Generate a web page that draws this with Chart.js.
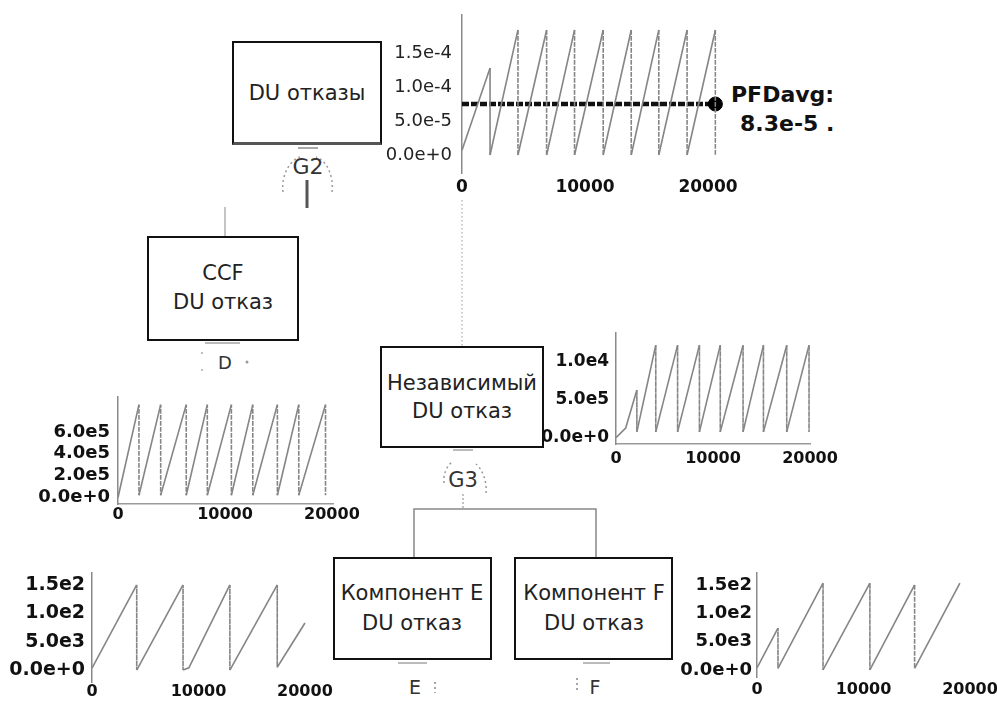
<!DOCTYPE html>
<html><head><meta charset="utf-8">
<script src="https://cdn.jsdelivr.net/npm/chart.js@4.4.1/dist/chart.umd.min.js"></script>
<style>
html,body{margin:0;padding:0;background:#fff;}
body{width:997px;height:705px;overflow:hidden;position:relative;font-family:'DejaVu Sans',sans-serif;}
.box{position:absolute;box-sizing:border-box;border:2px solid #111;}
.t{position:absolute;transform:translate(-50%,-50%);white-space:nowrap;line-height:1;color:#222;font-size:21px;}
.l{position:absolute;transform:translateY(-50%);white-space:nowrap;line-height:1;color:#111;font-size:22px;font-weight:bold;}
canvas{position:absolute;}
svg{position:absolute;left:0;top:0;}
</style></head><body>
<svg width="997" height="705">
  <path d="M283,192 C281,175 290,160 300,157" fill="none" stroke="#999" stroke-width="1.5" stroke-dasharray="2,3"/>
  <path d="M332,192 C334,175 326,160 316,157" fill="none" stroke="#999" stroke-width="1.5" stroke-dasharray="2,3"/>
  <line x1="298" y1="148" x2="318" y2="148" stroke="#aaa" stroke-width="2"/>
  <line x1="307" y1="180" x2="307" y2="208" stroke="#555" stroke-width="3"/>
  <line x1="225" y1="207" x2="225" y2="236" stroke="#888" stroke-width="1"/>
  <line x1="462" y1="200" x2="462" y2="346" stroke="#999" stroke-width="1" stroke-dasharray="1.5,2.5"/>
  <line x1="205" y1="343" x2="240" y2="343" stroke="#bbb" stroke-width="2"/>
  <circle cx="247" cy="362" r="1.5" fill="#999"/>
  <circle cx="202" cy="353" r="1" fill="#aaa"/>
  <circle cx="202" cy="370" r="1" fill="#aaa"/>
  <line x1="453" y1="450" x2="473" y2="450" stroke="#bbb" stroke-width="2"/>
  <path d="M444,483 C443,474 447,466 452,462" fill="none" stroke="#999" stroke-width="1.5" stroke-dasharray="2,3"/>
  <path d="M486,493 C487,482 483,470 476,464" fill="none" stroke="#999" stroke-width="1.5" stroke-dasharray="2,3"/>
  <line x1="463" y1="494" x2="463" y2="509" stroke="#999" stroke-width="1.2" stroke-dasharray="2,2"/>
  <polyline points="414,557 414,509 596,509 596,557" fill="none" stroke="#888" stroke-width="1.5"/>
  <line x1="398" y1="663" x2="427" y2="663" stroke="#bbb" stroke-width="2"/>
  <line x1="583" y1="663" x2="610" y2="663" stroke="#bbb" stroke-width="2"/>
  <line x1="435" y1="682" x2="435" y2="693" stroke="#888" stroke-width="1.5" stroke-dasharray="2,3"/>
  <line x1="577" y1="678" x2="577" y2="693" stroke="#888" stroke-width="1.5" stroke-dasharray="2,3"/>
</svg>

<div class="box" style="left:232px;top:41px;width:150px;height:104px;border-bottom:3px solid #555;"></div>
<div class="box" style="left:147px;top:236px;width:152px;height:105px;"></div>
<div class="box" style="left:380px;top:346px;width:164px;height:102px;"></div>
<div class="box" style="left:333px;top:557px;width:159px;height:103px;"></div>
<div class="box" style="left:514px;top:557px;width:159px;height:103px;"></div>

<div class="t" style="left:307px;top:93px;">DU отказы</div>
<div class="t" style="left:308px;top:167px;font-size:22px;color:#333;">G2</div>
<div class="t" style="left:223px;top:273px;">CCF</div>
<div class="t" style="left:223px;top:302px;">DU отказ</div>
<div class="t" style="left:225px;top:363px;font-size:18px;color:#333;">D</div>
<div class="t" style="left:462px;top:383px;">Независимый</div>
<div class="t" style="left:462px;top:411px;">DU отказ</div>
<div class="t" style="left:463px;top:480px;color:#333;">G3</div>
<div class="t" style="left:412px;top:593px;">Компонент E</div>
<div class="t" style="left:412px;top:623px;">DU отказ</div>
<div class="t" style="left:594px;top:593px;">Компонент F</div>
<div class="t" style="left:594px;top:623px;">DU отказ</div>
<div class="t" style="left:415px;top:687px;font-size:19px;color:#333;">E</div>
<div class="t" style="left:595px;top:687px;font-size:19px;color:#333;">F</div>
<div class="l" style="left:731px;top:95px;">PFDavg:</div>
<div class="l" style="left:740px;top:124px;">8.3e-5 .</div>

<script>
// ---------- data ----------
const xTicks = [0, 10000, 20000];

// DU отказы (top)
const topTime  = [0, 2280, 2280, 4550, 4550, 6880, 6880, 9150, 9150, 11480, 11480, 13760, 13760, 16000, 16000, 18300, 18300, 20600, 20600];
const topValue = [0.7e-5, 12.8e-5, 0, 18.4e-5, 0, 18.4e-5, 0, 18.4e-5, 0, 18.4e-5, 0, 18.4e-5, 0, 18.4e-5, 0, 18.4e-5, 0, 18.4e-5, 0];
const pfdTime  = [0, 20600];
const pfdValue = [7.5e-5, 7.5e-5];
const topYTicks  = [0, 5e-5, 1e-4, 1.5e-4];
const topYLabels = ['0.0e+0', '5.0e-5', '1.0e-4', '1.5e-4'];

// CCF DU отказ
const ccfTime  = [0, 1960, 1960, 3990, 3990, 6380, 6380, 8350, 8350, 10600, 10600, 12600, 12600, 14900, 14900, 16900, 16900, 19400, 19400];
const ccfValue = [0, 8.5e-5, 0.2e-5, 8.5e-5, 0.2e-5, 8.5e-5, 0.2e-5, 8.5e-5, 0.2e-5, 8.5e-5, 0.2e-5, 8.5e-5, 0.2e-5, 8.5e-5, 0.2e-5, 8.5e-5, 0.2e-5, 8.5e-5, 0.2e-5];
const ccfYTicks  = [0, 2e-5, 4e-5, 6e-5];
const ccfYLabels = ['0.0e+0', '2.0e5', '4.0e5', '6.0e5'];

// Независимый DU отказ
const indTime  = [0, 1000, 2150, 2150, 4100, 4100, 6350, 6350, 8600, 8600, 10750, 10750, 13100, 13100, 15200, 15200, 17600, 17600, 19900, 19900];
const indValue = [0.05e-5, 1.3e-5, 6.3e-5, 0.8e-5, 12.2e-5, 0.8e-5, 12.2e-5, 0.8e-5, 12.2e-5, 0.8e-5, 12.2e-5, 0.8e-5, 12.2e-5, 0.8e-5, 12.2e-5, 0.8e-5, 12.2e-5, 0.8e-5, 12.2e-5, 0.8e-5];
const indYTicks  = [0, 5e-5, 1e-4];
const indYLabels = ['0.0e+0', '5.0e5', '1.0e4'];

// Компонент E / F
const eTime  = [0, 4200, 4200, 8550, 8550, 9100, 12950, 12950, 17400, 17400, 20000];
const eValue = [0.35e-3, 1.5e-2, 0, 1.5e-2, 0, 0.4e-3, 1.5e-2, 0, 1.5e-2, 0.5e-3, 0.83e-2];
const fTime  = [0, 1970, 1970, 6200, 6200, 10600, 10600, 14800, 14800, 19050];
const fValue = [0.35e-3, 0.74e-2, 0.3e-3, 1.53e-2, 0, 1.53e-2, 0, 1.5e-2, 0.3e-3, 1.53e-2];
const compYTicks  = [0, 5e-3, 1e-2, 1.5e-2];
const compYLabels = ['0.0e+0', '5.0e3', '1.0e2', '1.5e2'];

// ---------- drawing ----------
Chart.defaults.font.family = "'DejaVu Sans', sans-serif";
const PT = 25, PR = 40;

function pts(xs, ys) { return xs.map((x, i) => ({ x: x, y: ys[i] })); }
function saw(xs, ys) {
  return {
    data: pts(xs, ys), borderColor: '#858585', borderWidth: 1.6, pointRadius: 0, fill: false, tension: 0,
    segment: { borderDash: c => (c.p0.parsed.x === c.p1.parsed.x ? [3, 3] : undefined) }
  };
}

function makeChart(g) {
  const c = document.createElement('canvas');
  const w = Math.round(g.R - g.L + g.yw + PR);
  const h = Math.round(g.B - g.T + PT + g.xh);
  c.width = w; c.height = h;
  c.style.left = (g.L - g.yw) + 'px';
  c.style.top = (g.T - PT) + 'px';
  c.style.width = w + 'px'; c.style.height = h + 'px';
  document.body.appendChild(c);
  const padR = w - (g.R - g.L) - g.yw;
  new Chart(c, {
    type: 'line',
    data: { datasets: g.datasets },
    options: {
      responsive: false, animation: false, events: [],
      layout: { padding: { left: 0, top: PT, right: padR, bottom: 0 } },
      plugins: { legend: { display: false }, tooltip: { enabled: false } },
      scales: {
        x: {
          type: 'linear', min: g.xmin, max: g.xmax,
          afterFit: s => { s.height = g.xh; },
          afterBuildTicks: s => { s.ticks = xTicks.map(v => ({ value: v })); },
          ticks: { padding: g.xpad, autoSkip: false, maxRotation: 0, color: '#111',
                   font: { size: g.xfs, weight: 'bold' }, callback: v => String(v) },
          grid: { display: false, drawTicks: false },
          border: { display: g.xBorder, color: '#9a9a9a', width: 1.5 }
        },
        y: {
          type: 'linear', min: g.ymin, max: g.ymax,
          afterFit: s => { s.width = g.yw; },
          afterBuildTicks: s => { s.ticks = g.yTicks.map(v => ({ value: v })); },
          ticks: { padding: g.ypad, autoSkip: false, color: g.ycol || '#111',
                   font: { size: g.yfs, weight: g.yweight || 'bold' },
                   callback: (v, i) => g.yLabels[i] },
          grid: { display: false, drawTicks: false },
          border: { display: true, color: '#8a8a8a', width: 1.5, dash: g.yDash || [] }
        }
      }
    }
  });
}

// top: DU отказы
makeChart({
  L: 462, T: 15, R: 716.6, B: 173, yw: 90, xh: 26,
  xmin: 0, xmax: 20700, ymin: -2.65e-5, ymax: 2.06e-4,
  yTicks: topYTicks, yLabels: topYLabels, yfs: 18, yweight: 'normal', ycol: '#222', ypad: 10,
  xfs: 17, xpad: 4, xBorder: false,
  datasets: [
    saw(topTime, topValue),
    { data: pts(pfdTime, pfdValue), borderColor: '#111', borderWidth: 4.5, borderDash: [7, 2],
      pointRadius: [0, 7], pointHoverRadius: [0, 7], pointBackgroundColor: '#000', pointBorderColor: '#000', pointBorderWidth: 1,
      fill: false, clip: false }
  ]
});

// CCF
makeChart({
  L: 118, T: 397, R: 333, B: 504, yw: 100, xh: 26,
  xmin: 0, xmax: 20100, ymin: -0.6e-5, ymax: 9.2e-5,
  yTicks: ccfYTicks, yLabels: ccfYLabels, yfs: 18, ypad: 8,
  xfs: 16, xpad: 1, xBorder: true, yDash: [2, 3],
  datasets: [saw(ccfTime, ccfValue)]
});

// Независимый
makeChart({
  L: 616, T: 333, R: 810, B: 444, yw: 90, xh: 26,
  xmin: 0, xmax: 20000, ymin: -7.9e-6, ymax: 1.38e-4,
  yTicks: indYTicks, yLabels: indYLabels, yfs: 17, ypad: 7,
  xfs: 16, xpad: 5, xBorder: true,
  datasets: [saw(indTime, indValue)]
});

// Компонент E
makeChart({
  L: 92, T: 573, R: 306, B: 682, yw: 92, xh: 26,
  xmin: 0, xmax: 20100, ymin: -2.1e-3, ymax: 1.71e-2,
  yTicks: compYTicks, yLabels: compYLabels, yfs: 19, ypad: 7,
  xfs: 16, xpad: 0, xBorder: false,
  datasets: [saw(eTime, eValue)]
});

// Компонент F
makeChart({
  L: 757, T: 573, R: 970, B: 677, yw: 90, xh: 26,
  xmin: 0, xmax: 20000, ymin: -1.24e-3, ymax: 1.71e-2,
  yTicks: compYTicks, yLabels: compYLabels, yfs: 18, ypad: 5,
  xfs: 16, xpad: 3, xBorder: false,
  datasets: [saw(fTime, fValue)]
});
</script>
</body></html>
